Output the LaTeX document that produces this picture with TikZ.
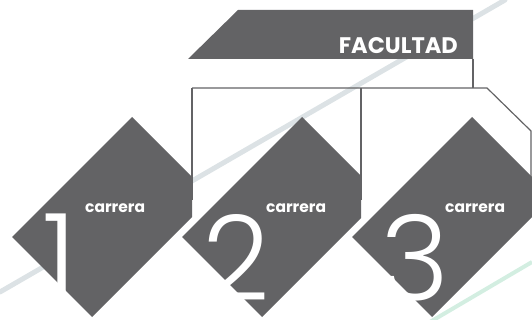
\documentclass[tikz,border=0pt]{standalone}
\usepackage{fontspec}
\setmainfont{Poppins}
\newfontfamily\thindigits{Poppins Light}
\usepackage{tikz}
\usetikzlibrary{calc}
\definecolor{slate}{RGB}{99,99,101}
\definecolor{haze}{RGB}{205,214,218}
\definecolor{mint}{RGB}{200,234,218}
\tikzset{
	lbl/.style = {text=white, font=\bfseries\fontsize{15.5}{15.5}\selectfont, inner sep=0pt, anchor=base west},
	num/.style = {text=white, font=\thindigits\fontsize{118}{118}\selectfont, inner sep=0pt, anchor=base},
	wire/.style = {draw=slate, line width=1.2pt},
}

\begin{document}
\begin{tikzpicture}[x=1pt, y=-1pt]
	\useasboundingbox (0,0) rectangle (532,320);
	\draw[haze, line width=5pt, line cap=round, opacity=.7] (0,292) -- (505,0);
	\draw[mint, line width=4pt, opacity=.8] (430,322) -- (532,262);

	\fill[slate] (188,59) -- (238,10) -- (473,10) -- (473,59) -- cycle;
	\node[lbl, anchor=base east, font=\bfseries\fontsize{22.5}{22.5}\selectfont] (fac) at (458,54) {FACULTAD};

	\coordinate (top) at (473,59);
	\coordinate (b1) at (192,88);
	\coordinate (b2) at (361,88);
	\coordinate (b3) at (487,88);
	\coordinate (b4) at (531,131);
	\draw[wire] (top) -- (top |- b1);
	\draw[wire] (b1) -- (b3) -- (b4) -- ++(0,70);
	\draw[wire] (b1) -- ++(0,112);
	\draw[wire] (b2) -- ++(0,112);

	\begin{scope}
		\clip (0,0) rectangle (192,320);
		\fill[slate] (132,117) -- ++(-120,120) -- ++(80,80) -- ++(120,-120) -- cycle;
	\end{scope}
	\begin{scope}
		\clip (0,0) rectangle (361,320);
		\fill[slate] (302,117) -- ++(-120,120) -- ++(80,80) -- ++(120,-120) -- cycle;
	\end{scope}
	\fill[slate] (472,117) -- ++(-120,120) -- ++(80,80) -- ++(120,-120) -- cycle;

	\node[num] (n1) at (60,298) {1};
	\node[num] (n2) at (236,300) {2};
	\node[num] (n3) at (415,300) {3};
	\node[lbl] (c1) at (85,213) {carrera};
	\node[lbl] (c2) at (266,213) {carrera};
	\node[lbl] (c3) at (445,213) {carrera};
\end{tikzpicture}
\end{document}
